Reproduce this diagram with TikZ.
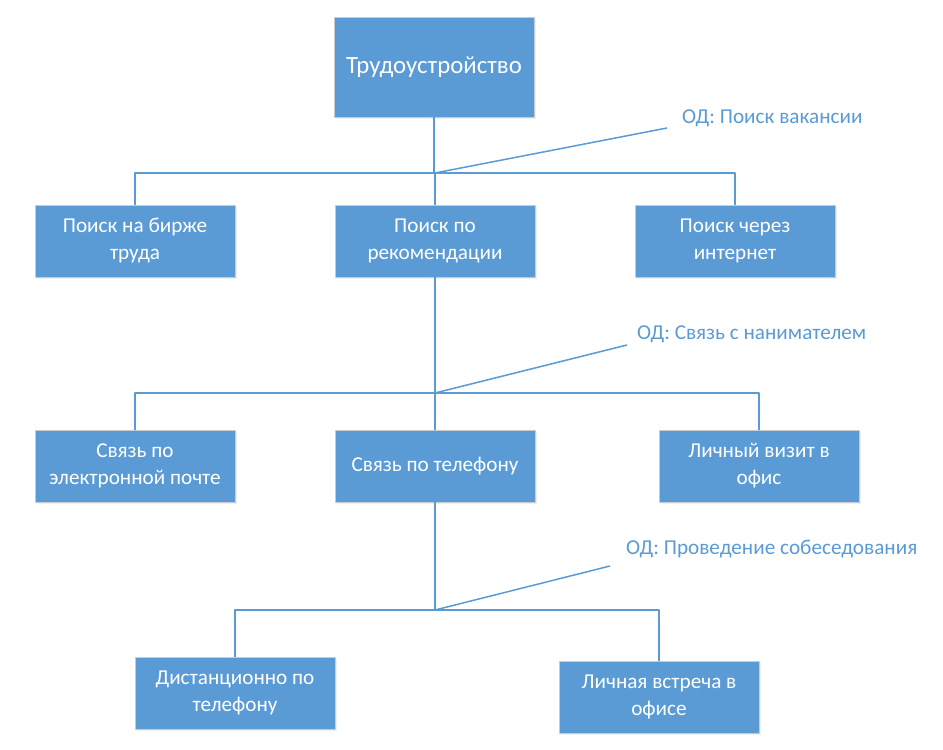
\documentclass[tikz,border=0pt]{standalone}
\usepackage{fontspec}
\setmainfont{Carlito}
\usetikzlibrary{shadows}
\definecolor{boxblue}{HTML}{5B9BD5}
\definecolor{boxedge}{HTML}{C8CCD0}

\begin{document}
\begin{tikzpicture}[x=1pt, y=-1pt, line join=round,
  box/.style={fill=boxblue, draw=boxedge, line width=0.8pt, text=white, align=center,
    minimum width=200pt, minimum height=72pt, inner sep=2pt,
    font=\fontsize{21.2}{27}\selectfont,
    drop shadow={opacity=0.12, shadow xshift=2pt, shadow yshift=-2pt}},
  link/.style={draw=boxblue, line width=1.5pt},
  note/.style={text=boxblue, inner sep=0pt, font=\fontsize{21.2}{24}\selectfont}]
	\fill[white] (0,0) rectangle (943,750);
	\useasboundingbox (0,0) rectangle (943,750);
	% Уровень 0
	\node[box, minimum height=100pt, font=\fontsize{24.8}{28}\selectfont] (top) at (434,67) {Трудоустройство};
	% Уровень 1
	\node[box] (b1) at (135,241) {Поиск на бирже\\труда};
	\node[box] (b2) at (435,241) {Поиск по\\рекомендации};
	\node[box] (b3) at (735,241) {Поиск через\\интернет};
	% Уровень 2
	\node[box] (c1) at (135,466) {Связь по\\электронной почте};
	\node[box] (c2) at (435,466) {Связь по телефону};
	\node[box] (c3) at (759,466) {Личный визит в\\офис};
	% Уровень 3
	\node[box] (d1) at (235,693) {Дистанционно по\\телефону};
	\node[box] (d2) at (659,697) {Личная встреча в\\офисе};
	% Узлы шин и концы выносок
	\coordinate (j1) at (435,173);
	\coordinate (j2) at (435,393);
	\coordinate (j3) at (435,610);
	\coordinate (e1) at (667,128);
	\coordinate (e2) at (627,345);
	\coordinate (e3) at (610,566);
	\node[note, anchor=base west] (n1) at (682,123) {ОД: Поиск вакансии};
	\node[note, anchor=base west] (n2) at (637,339) {ОД: Связь с нанимателем};
	\node[note, anchor=base west] (n3) at (626,554) {ОД: Проведение собеседования};
	% Связи
	\draw[link] (top.south) -- (top.south |- j1);
	\draw[link] (b1.north) |- (j1) -| (b3.north);
	\draw[link] (j1) -- (b2.north);
	\draw[link] (b2.south) -- (j2);
	\draw[link] (c1.north) |- (j2) -| (c3.north);
	\draw[link] (j2) -- (c2.north);
	\draw[link] (c2.south) -- (j3);
	\draw[link] (d1.north) |- (j3) -| (d2.north);
	\draw[link] (j1) -- (e1);
	\draw[link] (j2) -- (e2);
	\draw[link] (j3) -- (e3);
\end{tikzpicture}
\end{document}
